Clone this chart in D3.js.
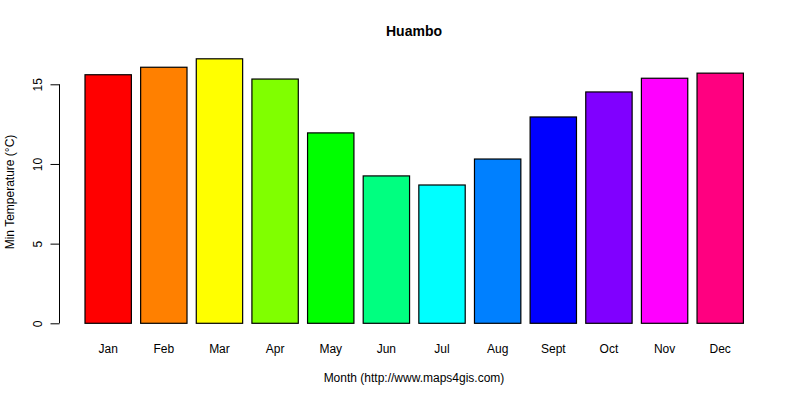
<!DOCTYPE html>
<html><head><meta charset="utf-8">
<script src="https://cdn.jsdelivr.net/npm/d3@7"></script>
<style>body{margin:0;background:#fff}svg{display:block}text{font-family:"Liberation Sans",Arial,sans-serif;fill:#000}</style>
</head><body><svg id="c" width="800" height="400"></svg>
<script>
const months = ["Jan","Feb","Mar","Apr","May","Jun","Jul","Aug","Sept","Oct","Nov","Dec"];
const minTemp = [15.6,16.07,16.6,15.33,11.95,9.25,8.68,10.31,12.95,14.52,15.38,15.7];
const barColors = ["#FF0000","#FF8000","#FFFF00","#80FF00","#00FF00","#00FF80","#00FFFF","#0080FF","#0000FF","#8000FF","#FF00FF","#FF0080"];
const yTicks = [0,5,10,15];
const title = "Huambo";
const xTitle = "Month (http://www.maps4gis.com)";
const yTitle = "Min Temperature (°C)";

const svg = d3.select("#c");
// R barplot coordinates: bar i spans [0.2+1.2*i, 1.2+1.2*i]
const x = d3.scaleLinear().domain([0.2, 14.4]).range([85, 743.4]);
const y = d3.scaleLinear().domain([0, 15]).range([323.3, 84.3]);

svg.append("g").selectAll("rect").data(minTemp).join("rect")
  .attr("x", (d,i)=>x(0.2+1.2*i))
  .attr("width", (d,i)=>x(1.2+1.2*i)-x(0.2+1.2*i))
  .attr("y", d=>y(d))
  .attr("height", d=>y(0)-y(d))
  .attr("fill", (d,i)=>barColors[i])
  .attr("stroke","#000").attr("stroke-width",1.2);

svg.append("g").selectAll("text").data(months).join("text")
  .attr("x", (d,i)=>x(0.7+1.2*i)).attr("y", 353.3)
  .attr("text-anchor","middle").attr("font-size",12).text(d=>d);

const yAxis = d3.axisLeft(y).tickValues(yTicks).tickSize(9).tickPadding(0).tickFormat(d3.format("d"));
const ga = svg.append("g").attr("transform","translate(59.5,0)").call(yAxis);
ga.select(".domain").attr("d", `M0,${y(0)}V${y(15)}`).attr("stroke","#000");
ga.selectAll(".tick line").attr("stroke","#000");
ga.selectAll(".tick text").remove();
ga.selectAll(".tick").append("text")
  .attr("transform","translate(-18,0) rotate(-90)")
  .attr("text-anchor","middle").attr("font-size",12)
  .style("font-family",'"Liberation Sans",Arial,sans-serif').attr("fill","#000")
  .text(d=>d);

svg.append("text").attr("x",414).attr("y",35.7).attr("text-anchor","middle")
  .attr("font-size",14).attr("font-weight","bold").text(title);
svg.append("text").attr("x",414).attr("y",382.3).attr("text-anchor","middle")
  .attr("font-size",12).text(xTitle);
svg.append("text").attr("transform","translate(14,192) rotate(-90)").attr("text-anchor","middle")
  .attr("font-size",12).text(yTitle);
</script></body></html>
